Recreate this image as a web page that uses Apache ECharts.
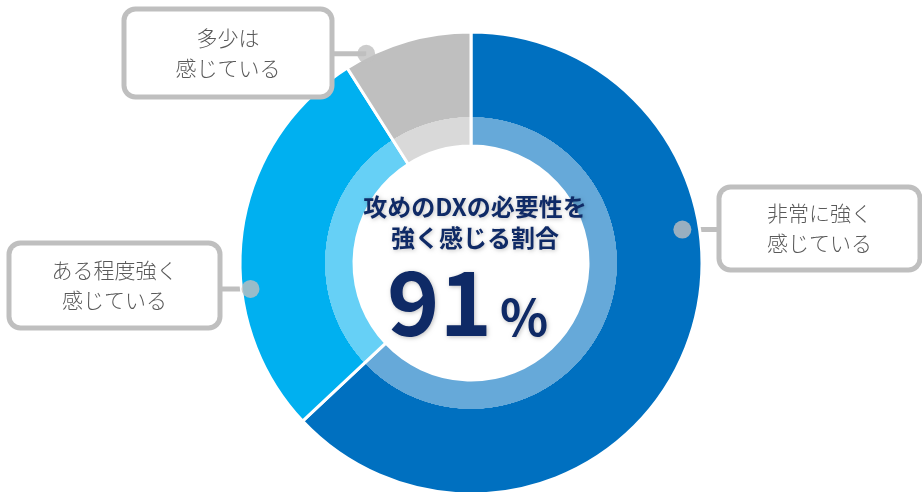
<!DOCTYPE html>
<html><head><meta charset="utf-8">
<script src="https://cdn.jsdelivr.net/npm/echarts@6/dist/echarts.min.js"></script>
<style>html,body{margin:0;padding:0;background:#fff}#c{width:922px;height:492px}</style>
</head><body><div id="c"></div>
<script>
// ---- data ----
const categories = ['非常に強く\n感じている', 'ある程度強く\n感じている', '多少は\n感じている'];
const values = [63, 28, 9];
const outerColors = ['#0070C0', '#00B0F0', '#BFBFBF'];
const innerColors = ['#66A9D9', '#66D0F6', '#D9D9D9'];
const centerTitle = ['攻めのDXの必要性を', '強く感じる割合'];
const centerValue = '91';
const centerUnit = '%';
// label anchor dots: [radius px, angle deg clockwise from 12 o'clock]
const dotPolar = [[214, 81], [222, 263.3], [234, 333.4]];

// ---- layout ----
const CX = 471, CY = 263, R_OUT = 231, R_MID = 146, R_IN = 117;
const boxes = [
  { cx: 819.5, cy: 228.5, w: 196, h: 78 },
  { cx: 114.5, cy: 285.5, w: 206, h: 80 },
  { cx: 228, cy: 53, w: 203, h: 83 }
];
const LINE_H = 30;
const FONT = '"Noto Sans CJK JP", "Noto Sans", sans-serif';

function dotXY(i) {
  const a = dotPolar[i][1] * Math.PI / 180;
  return [CX + dotPolar[i][0] * Math.sin(a), CY - dotPolar[i][0] * Math.cos(a)];
}

const pieData = categories.map((name, i) => {
  const b = boxes[i];
  const padH = 10, padV = (b.h - 2 * LINE_H) / 2;
  return {
    name: name,
    value: values[i],
    itemStyle: {
      color: {
        type: 'radial', x: CX, y: CY, r: R_OUT, global: true,
        colorStops: [
          { offset: 0, color: innerColors[i] },
          { offset: R_MID / R_OUT, color: innerColors[i] },
          { offset: R_MID / R_OUT + 0.001, color: outerColors[i] },
          { offset: 1, color: outerColors[i] }
        ]
      }
    },
    label: { width: b.w - 2 * padH, padding: [padV, padH] }
  };
});

const shadow = { textShadowColor: 'rgba(0,0,0,0.25)', textShadowBlur: 4, textShadowOffsetX: 1, textShadowOffsetY: 1 };

const chart = echarts.init(document.getElementById('c'), null, { renderer: 'canvas' });
chart.setOption({
  animation: false,
  backgroundColor: '#fff',
  polar: { center: [CX, CY], radius: 250 },
  angleAxis: { type: 'value', min: 0, max: 360, startAngle: 90, clockwise: true, show: false },
  radiusAxis: { type: 'value', min: 0, max: 250, show: false },
  series: [
    {
      type: 'pie',
      center: [CX, CY],
      radius: [R_IN, R_OUT],
      startAngle: 90,
      clockwise: true,
      silent: true,
      itemStyle: { borderColor: '#fff', borderWidth: 3 },
      label: {
        show: true,
        formatter: '{b}',
        color: '#595959',
        fontFamily: FONT,
        fontWeight: 300,
        fontSize: 21,
        lineHeight: LINE_H,
        align: 'center',
        backgroundColor: '#fff',
        borderColor: '#BFBFBF',
        borderWidth: 5,
        borderRadius: 9
      },
      labelLine: { show: true, lineStyle: { color: '#BFBFBF', width: 5 } },
      labelLayout: function (params) {
        const i = params.dataIndex;
        const b = boxes[i];
        const p = dotXY(i);
        const edgeX = p[0] < b.cx ? b.cx - b.w / 2 : b.cx + b.w / 2;
        return {
          x: b.cx, y: b.cy, align: 'center', verticalAlign: 'middle',
          labelLinePoints: [[p[0], p[1]], [(p[0] + edgeX) / 2, p[1]], [edgeX, p[1]]]
        };
      },
      data: pieData
    },
    {
      type: 'scatter',
      coordinateSystem: 'polar',
      silent: true,
      z: 10,
      symbolSize: 18,
      itemStyle: { color: '#BFBFBF' },
      data: dotPolar
    }
  ],
  graphic: [
    { type: 'text', x: 475, y: 207, z: 100,
      style: Object.assign({ text: centerTitle[0], font: 'bold 24px ' + FONT, fill: '#0F2A66', align: 'center', verticalAlign: 'middle' }, shadow) },
    { type: 'text', x: 475, y: 238, z: 100,
      style: Object.assign({ text: centerTitle[1], font: 'bold 24px ' + FONT, fill: '#0F2A66', align: 'center', verticalAlign: 'middle' }, shadow) },
    { type: 'text', x: 492, y: 302, z: 100,
      style: Object.assign({ text: centerValue, font: 'bold 89px ' + FONT, fill: '#0F2A66', align: 'right', verticalAlign: 'middle' }, shadow) },
    { type: 'text', x: 500, y: 317, z: 100,
      style: Object.assign({ text: centerUnit, font: 'bold 50px ' + FONT, fill: '#0F2A66', align: 'left', verticalAlign: 'middle' }, shadow) }
  ]
});
</script>
</body></html>
